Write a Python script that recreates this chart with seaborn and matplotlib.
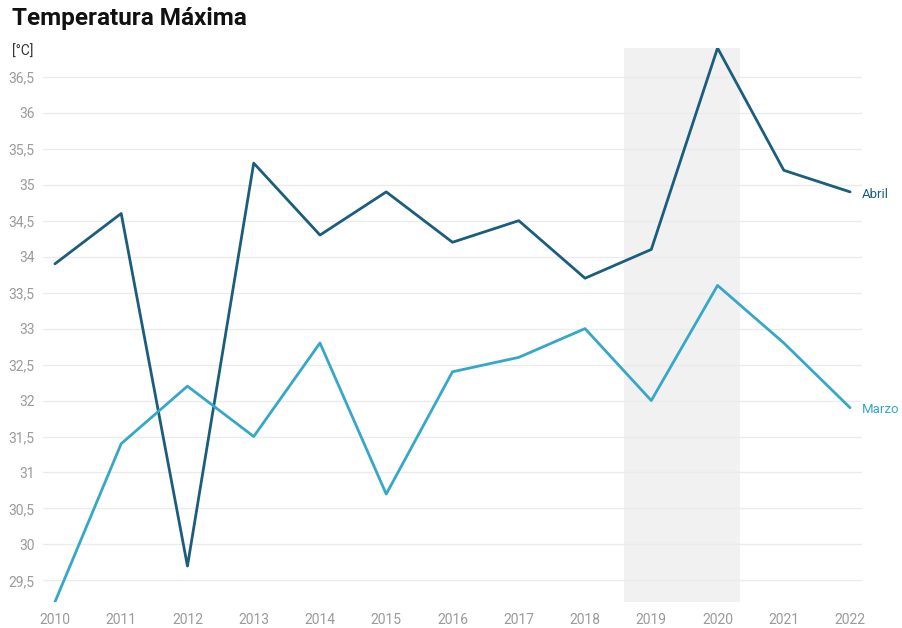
import pandas as pd
import matplotlib.pyplot as plt
import seaborn as sns

# datos
anios = list(range(2010, 2023))
abril = [33.9, 34.6, 29.7, 35.3, 34.3, 34.9, 34.2, 34.5, 33.7, 34.1, 36.9, 35.2, 34.9]
marzo = [29.2, 31.4, 32.2, 31.5, 32.8, 30.7, 32.4, 32.6, 33.0, 32.0, 33.6, 32.8, 31.9]
series = ['Abril', 'Marzo']
colores = {'Abril': '#1b5d7c', 'Marzo': '#35a8c8'}
yticks = [29.5, 30, 30.5, 31, 31.5, 32, 32.5, 33, 33.5, 34, 34.5, 35, 35.5, 36, 36.5]

df = pd.DataFrame({'anio': anios * 2,
                   'temp': abril + marzo,
                   'mes': ['Abril'] * len(anios) + ['Marzo'] * len(anios)})

sns.set_style('white')
plt.rcParams['font.family'] = ['Roboto', 'DejaVu Sans']

fig = plt.figure(figsize=(9.02, 6.28), dpi=100)
ax = fig.add_axes([43 / 902, 1 - 602 / 628, (862 - 43) / 902, (602 - 48) / 628])

# zona sombreada 2019-2020
ax.axvspan(2018.59, 2020.34, color='#f1f1f1', zorder=0, lw=0)

sns.lineplot(data=df, x='anio', y='temp', hue='mes', hue_order=series,
             palette=colores, linewidth=2, legend=False, ax=ax, zorder=3)

ax.set_xlim(2009.82, 2022.18)
ax.set_ylim(29.2, 36.9)
ax.set_xticks(anios)
ax.set_xticklabels([str(a) for a in anios])
ax.set_yticks(yticks)
ax.set_yticklabels([f'{v:g}'.replace('.', ',') for v in yticks])
ax.yaxis.grid(True, color='#ebebeb', lw=1, zorder=1)
ax.xaxis.grid(False)
ax.set_axisbelow(True)
for s in ax.spines.values():
    s.set_visible(False)
ax.tick_params(axis='both', length=0, labelsize=10, labelcolor='#9a9a9a')
ax.tick_params(axis='y', pad=6)
ax.tick_params(axis='x', pad=8)
ax.set_xlabel('')
ax.set_ylabel('')

# etiquetas de series
ax.text(anios[-1] + 0.18, abril[-1] - 0.03, 'Abril', color=colores['Abril'],
        fontsize=9.5, va='center', ha='left')
ax.text(anios[-1] + 0.18, marzo[-1] - 0.03, 'Marzo', color=colores['Marzo'],
        fontsize=9.5, va='center', ha='left')

fig.text(12 / 902, 1 - 18 / 628, 'Temperatura Máxima', fontsize=17.5,
         fontweight='bold', color='#111111', va='center', ha='left')
fig.text(12 / 902, 1 - 52 / 628, '[°C]', fontsize=10, color='#333333',
         va='center', ha='left')

fig.savefig('out.png', dpi=100)
